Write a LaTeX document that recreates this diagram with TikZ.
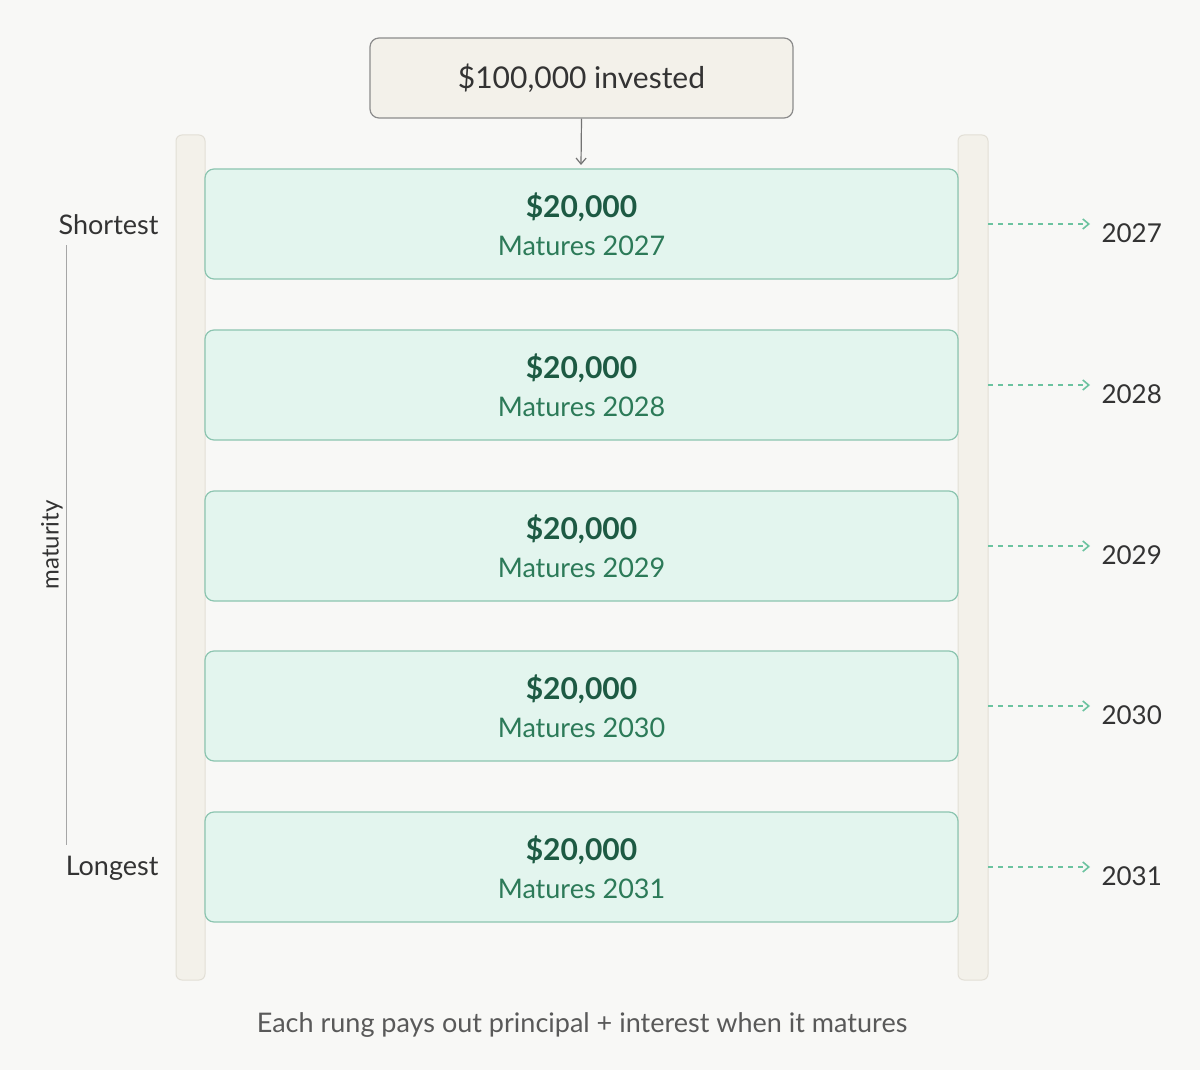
\documentclass[tikz,border=0pt]{standalone}
\usepackage{fontspec}
\setmainfont{Lato}
\usetikzlibrary{arrows.meta}
\definecolor{bg}{HTML}{F8F8F6}
\definecolor{rail}{HTML}{F3F1EA}
\definecolor{railb}{HTML}{E2DFD6}
\definecolor{rungf}{HTML}{E3F5EE}
\definecolor{rungd}{HTML}{8CC5B0}
\definecolor{dkg}{HTML}{1D5A43}
\definecolor{mg}{HTML}{2C7A58}
\definecolor{arr}{HTML}{6CC3A0}
\definecolor{txt}{HTML}{333333}
\tikzset{
  rung/.style={draw=rungd,fill=rungf,rounded corners=9pt,line width=1.2pt,minimum width=753pt,minimum height=110pt,align=center,inner sep=0pt},
  railst/.style={draw=railb,fill=rail,rounded corners=6pt,line width=1pt},
  yr/.style={anchor=west,font=\fontsize{26}{30}\selectfont,text=txt},
  pay/.style={draw=arr,line width=1.6pt,dash pattern=on 5pt off 5pt,-{Straight Barb[length=6pt,width=10pt]}},
}
\begin{document}
\begin{tikzpicture}[x=1pt,y=-1pt]
\fill[bg] (0,0) rectangle (1200,1070);
\useasboundingbox (0,0) rectangle (1200,1070);
\draw[railst] (176,135) rectangle (205,980);
\draw[railst] (958,135) rectangle (988,980);
\node[draw=black!45,fill=rail,rounded corners=9pt,line width=1.2pt,minimum width=423pt,minimum height=80pt,font=\fontsize{30}{34}\selectfont,text=txt] (top) at (581.5,78) {\$100,000 invested};
\foreach \i/\y/\yr in {1/224/2027,2/385/2028,3/546/2029,4/706/2030,5/867/2031}{
  \node[rung] (r\i) at (581.5,\y) {{\fontsize{30}{32}\selectfont\bfseries\color{dkg}\$20,000}\\[13pt]{\fontsize{27}{30}\selectfont\color{mg}Matures \yr}};
  \coordinate (s\i) at (988,\y);
  \coordinate (e\i) at (1090,\y);
  \draw[pay] (s\i) -- (e\i);
  \node[yr] (y\i) at (1098,\y+9) {\yr};
}
\coordinate (tt) at (581,165);
\draw[black!55,line width=1.2pt,-{Straight Barb[length=6pt,width=10pt]}] (top.south) -- (tt);
\coordinate (a1) at (66,245);
\coordinate (a2) at (66,845);
\draw[black!35,line width=1pt] (a1) -- (a2);
\node[anchor=east,font=\fontsize{27}{30}\selectfont,text=txt] (sh) at (162,225) {Shortest};
\node[anchor=east,font=\fontsize{27}{30}\selectfont,text=txt] (lo) at (162,868) {Longest};
\node[rotate=90,font=\fontsize{24}{28}\selectfont,text=txt] (mat) at (52,545) {maturity};
\node[font=\fontsize{27}{30}\selectfont,text=black!65] (cap) at (582,1025) {Each rung pays out principal + interest when it matures};
\end{tikzpicture}
\end{document}
